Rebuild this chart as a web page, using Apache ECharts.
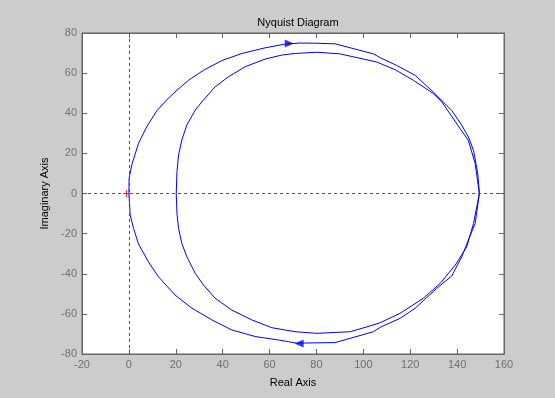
<!DOCTYPE html>
<html>
<head>
<meta charset="utf-8">
<script src="https://cdn.jsdelivr.net/npm/echarts@6/dist/echarts.min.js"></script>
<style>
  html, body { margin: 0; padding: 0; background: #cccccc; }
  #chart { width: 555px; height: 398px; }
</style>
</head>
<body>
<div id="chart"></div>
<script>
// Nyquist branches, [real, imag]
const outerUpper = [[0,0],[0.1,7.6],[1.3,14.5],[4.1,25],[7.7,33.5],[11.9,41.2],[16.2,46.8],[20.5,51.5],[25.4,56.4],[31.8,61.4],[39.7,66.3],[48.2,69.8],[58.1,72.6],[66.7,74.5],[73,75],[80,74.9],[88,74.6],[104.3,69.6],[107.2,67.7],[114.3,63.8],[122.1,58.9],[129.9,50.5],[137.7,41.4],[142,34],[144.8,28.2],[147,21.5],[148.8,10],[149.5,0]];
const innerUpper = [[20.2,0],[20.5,10.9],[21.2,19.2],[22.6,26.7],[24.7,34.1],[28.3,41.6],[31.8,46.6],[36.8,53.2],[42.5,58.2],[49.6,63.2],[58.1,67],[65.2,69],[70.9,69.8],[80.2,70.4],[90.1,69.6],[105.8,65.5],[113.6,61.7],[121.4,56.4],[129.9,49.8],[133.5,45.6],[141.3,32.3],[144.8,26.5],[147.7,14.9],[149.5,0]];
const outerLower = [[0,0],[0.55,-10.8],[2,-17.4],[4.1,-25.2],[8.4,-34.2],[12.6,-41.5],[19.7,-50.6],[26.9,-57.2],[35.4,-63],[43.9,-68],[53.9,-71.3],[63.8,-73],[71.6,-74.6],[88,-74.3],[104.3,-68.9],[107.2,-66.7],[115.7,-62.2],[122.1,-57.2],[131.3,-47.3],[137.7,-41.1],[142,-31.5],[144.8,-23.2],[147.7,-14.9],[149.5,0]];
const innerLower = [[20.2,0],[20.5,-10],[21.2,-17.4],[22.6,-24.9],[24.7,-31.5],[28.3,-39.8],[31.8,-45.6],[36.8,-52.2],[43.9,-58.1],[52.4,-63],[61,-66.9],[70.9,-68.9],[80.2,-69.7],[94.4,-68.9],[102.9,-66],[107.2,-64.4],[115.7,-59.7],[125.6,-52.2],[132.8,-44.8],[139.2,-35.7],[144.1,-26.6],[147,-14.9],[149.5,0]];
const arrowRight = [[68.4,74.8]];
const arrowLeft = [[72.6,-74.8]];
const criticalPoint = [[-1,0]];

const blue = '#0000ff';
const axisGray = '#666666';
const labelGray = '#707070';
const font = 'Arial, "Liberation Sans", sans-serif';

function branch(data) {
  return {
    type: 'line', data: data, showSymbol: false, symbol: 'none',
    lineStyle: { color: blue, width: 1 }, silent: true, z: 3
  };
}

const chart = echarts.init(document.getElementById('chart'));
chart.setOption({
  backgroundColor: '#cccccc',
  animation: false,
  title: {
    text: 'Nyquist Diagram', left: 293, top: 12, textAlign: 'center',
    textStyle: { fontFamily: font, fontSize: 11, fontWeight: 'normal', color: '#000' }
  },
  grid: {
    left: 82, top: 33, right: 51, bottom: 44,
    show: true, backgroundColor: '#ffffff', borderColor: axisGray, borderWidth: 1
  },
  xAxis: [{
    type: 'value', min: -20, max: 160, interval: 20,
    name: 'Real Axis', nameLocation: 'middle', nameGap: 23,
    nameTextStyle: { fontFamily: font, fontSize: 11, color: '#000' },
    axisLine: { onZero: false, lineStyle: { color: axisGray } },
    axisTick: { inside: true, length: 5, lineStyle: { color: axisGray } },
    axisLabel: { fontFamily: font, fontSize: 11, color: labelGray, margin: 5 },
    splitLine: { show: false }
  }, {
    type: 'value', position: 'top', min: -20, max: 160, interval: 20,
    axisLine: { onZero: false, lineStyle: { color: axisGray } },
    axisTick: { inside: true, length: 5, lineStyle: { color: axisGray } },
    axisLabel: { show: false }, splitLine: { show: false }
  }],
  yAxis: [{
    type: 'value', min: -80, max: 80, interval: 20,
    name: 'Imaginary Axis', nameLocation: 'middle', nameGap: 27,
    nameTextStyle: { fontFamily: font, fontSize: 11, color: '#000' },
    axisLine: { show: true, onZero: false, lineStyle: { color: axisGray } },
    axisTick: { show: true, inside: true, length: 5, lineStyle: { color: axisGray } },
    axisLabel: { fontFamily: font, fontSize: 11, color: labelGray, margin: 5 },
    splitLine: { show: false }
  }, {
    type: 'value', position: 'right', min: -80, max: 80, interval: 20,
    axisLine: { show: true, onZero: false, lineStyle: { color: axisGray } },
    axisTick: { show: true, inside: true, length: 5, lineStyle: { color: axisGray } },
    axisLabel: { show: false }, splitLine: { show: false }
  }],
  series: [
    {
      type: 'line', data: [], silent: true,
      markLine: {
        silent: true, symbol: 'none', label: { show: false },
        lineStyle: { color: '#555', type: [3, 3], width: 1 },
        data: [{ xAxis: 0 }, { yAxis: 0 }]
      }
    },
    branch(outerUpper),
    branch(innerUpper),
    branch(outerLower),
    branch(innerLower),
    {
      type: 'scatter', data: arrowRight, symbol: 'triangle', symbolSize: [8, 9],
      symbolRotate: -90, itemStyle: { color: blue }, silent: true, z: 4
    },
    {
      type: 'scatter', data: arrowLeft, symbol: 'triangle', symbolSize: [8, 9],
      symbolRotate: 90, itemStyle: { color: blue }, silent: true, z: 4
    },
    {
      type: 'scatter', data: criticalPoint,
      symbol: 'path://M0,3L3,3L3,0L4,0L4,3L7,3L7,4L4,4L4,7L3,7L3,4L0,4Z', symbolSize: 7,
      itemStyle: { color: '#ff0000' }, silent: true, z: 5
    }
  ]
});
</script>
</body>
</html>
